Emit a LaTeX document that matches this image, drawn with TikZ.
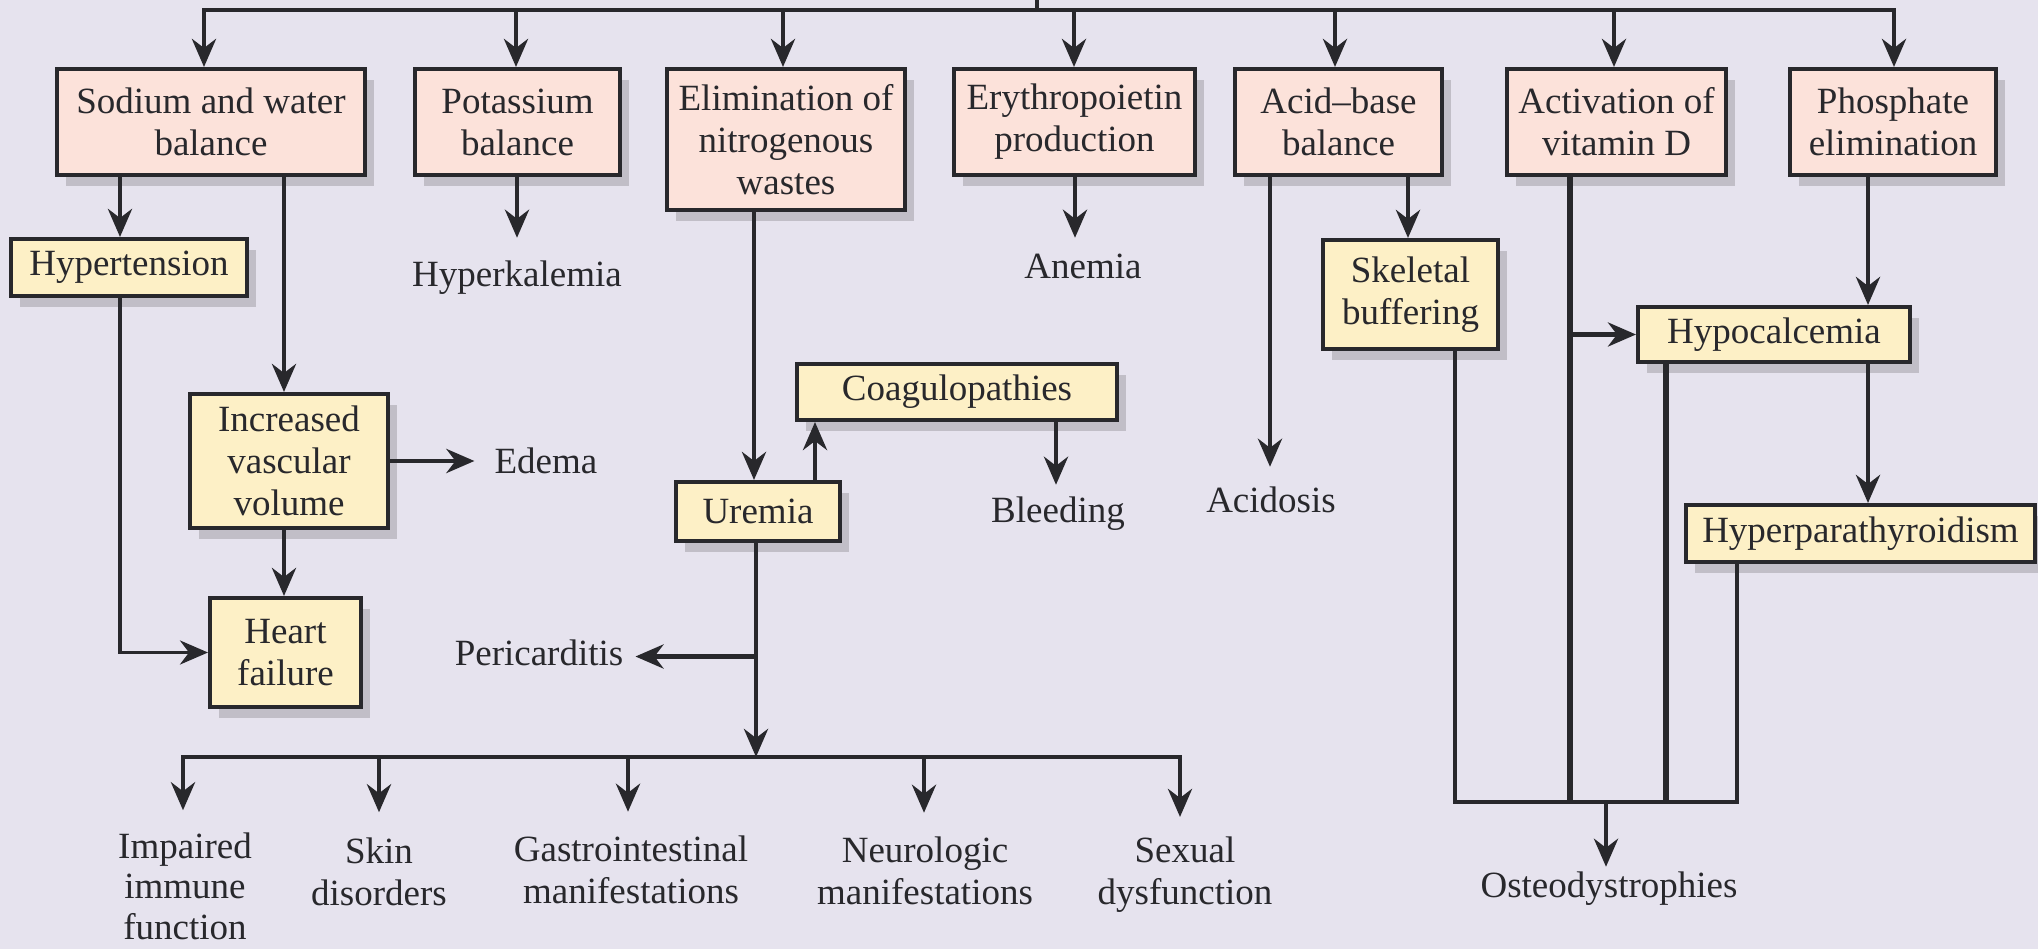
\documentclass[tikz,border=0pt]{standalone}
\usepackage{fontspec}
\setmainfont{Liberation Serif}
\usetikzlibrary{arrows.meta,shadows}
\definecolor{bg}{HTML}{E6E3EE}
\definecolor{pinkc}{HTML}{FCE2DA}
\definecolor{yelc}{HTML}{FDF0C6}
\definecolor{ink}{HTML}{28282C}
\tikzset{
  ln/.style={draw=ink, line width=4.8pt},
  thinln/.style={draw=ink, line width=3.6pt},
  thickln/.style={draw=ink, line width=6.5pt},
  tip/.style={-{Stealth[length=28pt,width=24pt,inset=9pt]}},
  arr/.style={ln, tip},
  thinarr/.style={thinln, tip},
  box/.style={draw=ink, line width=4pt, inner sep=0pt, align=center, text=ink,
    drop shadow={shadow xshift=9pt, shadow yshift=-11pt, fill=black, opacity=0.16}},
  pbox/.style={box, fill=pinkc},
  ybox/.style={box, fill=yelc},
  lbl/.style={inner sep=0pt, align=center, text=ink},
  lblone/.style={inner sep=0pt, text=ink, text height=25pt, text depth=8pt},
}
\begin{document}
\begin{tikzpicture}[x=1pt, y=-1pt, font=\fontsize{37}{42}\selectfont]
\fill[bg] (0,0) rectangle (2038,949);
\useasboundingbox (0,0) rectangle (2038,949);

% top row boxes
\node[pbox, minimum width=308pt, minimum height=106pt] (sod) at (211,122) {Sodium and water\\balance};
\node[pbox, minimum width=205pt, minimum height=106pt] (pot) at (517.5,122) {Potassium\\balance};
\node[pbox, minimum width=238pt, minimum height=141pt] (elim) at (786,139.5) {Elimination of\\nitrogenous\\wastes};
\node[pbox, minimum width=241pt, minimum height=106pt] (ery) at (1074.5,122) {Erythropoietin\\production};
\node[pbox, minimum width=207pt, minimum height=106pt] (acid) at (1338.5,122) {Acid–base\\balance};
\node[pbox, minimum width=219pt, minimum height=106pt] (act) at (1616.5,122) {Activation of\\vitamin D};
\node[pbox, minimum width=206pt, minimum height=106pt] (phos) at (1893,122) {Phosphate\\elimination};

% yellow boxes
\node[ybox, minimum width=236pt, minimum height=57pt] (hyp) at (129,267.5) {Hypertension};
\node[ybox, minimum width=198pt, minimum height=134pt] (inc) at (289,461) {Increased\\vascular\\volume};
\node[ybox, minimum width=151pt, minimum height=109pt] (heart) at (285.5,652.5) {Heart\\failure};
\node[ybox, minimum width=164pt, minimum height=59pt] (uremia) at (758,511.5) {Uremia};
\node[ybox, minimum width=320pt, minimum height=56pt] (coag) at (957,392) {Coagulopathies};
\node[ybox, minimum width=175pt, minimum height=109pt] (skel) at (1410.5,294.5) {Skeletal\\buffering};
\node[ybox, minimum width=272pt, minimum height=55pt] (hypoc) at (1774,334.5) {Hypocalcemia};
\node[ybox, minimum width=349pt, minimum height=57pt] (hpt) at (1860.5,533.5) {Hyperparathyroidism};

% plain labels
\node[lblone] (hk) at (517,278.5) {Hyperkalemia};
\node[lblone] (anemia) at (1083,270.5) {Anemia};
\node[lblone] (edema) at (546,464.5) {Edema};
\node[lblone] (bleed) at (1058,513.5) {Bleeding};
\node[lblone] (acidosis) at (1271,503.5) {Acidosis};
\node[lblone] (peri) at (539,656.5) {Pericarditis};
\node[lblone] (osteo) at (1609,888.5) {Osteodystrophies};
\node[lbl, font=\fontsize{37}{40.5}\selectfont] (imp) at (185,886) {Impaired\\immune\\function};
\node[lbl] (skin) at (379,871.5) {Skin\\disorders};
\node[lbl] (gi) at (631,870) {Gastrointestinal\\manifestations};
\node[lbl] (neuro) at (925,871) {Neurologic\\manifestations};
\node[lbl] (sex) at (1185,875) {Sexual\\dysfunction};

% top bus
\coordinate (stub) at (1037,0);
\coordinate (t1) at (204,10);
\coordinate (t2) at (516,10);
\coordinate (t3) at (783,10);
\coordinate (t4) at (1074,10);
\coordinate (t5) at (1335,10);
\coordinate (t6) at (1614,10);
\coordinate (t7) at (1894,10);
\draw[ln] (stub) -- (stub |- t1);
\draw[ln, line cap=rect] (t1) -- (t7);
\draw[arr] (t1) -- (t1 |- sod.north);
\draw[arr] (t2) -- (t2 |- pot.north);
\draw[arr] (t3) -- (t3 |- elim.north);
\draw[arr] (t4) -- (t4 |- ery.north);
\draw[arr] (t5) -- (t5 |- acid.north);
\draw[arr] (t6) -- (t6 |- act.north);
\draw[arr] (t7) -- (t7 |- phos.north);

% sodium branch
\coordinate (xhyp) at (120,0);
\coordinate (xinc) at (284,0);
\draw[arr] (sod.south -| xhyp) -- (hyp.north -| xhyp);
\draw[arr] (sod.south -| xinc) -- (inc.north -| xinc);
\draw[thinarr] (hyp.south -| xhyp) |- (heart.west);
\draw[arr, shorten >=20pt] (inc.east) -- (inc.east -| edema.west);
\draw[arr] (inc.south -| xinc) -- (heart.north -| xinc);

% potassium, erythropoietin
\coordinate (xpot) at (517,0);
\coordinate (xery) at (1075,0);
\draw[arr, shorten >=24pt] (pot.south -| xpot) -- (hk.north -| xpot);
\draw[arr, shorten >=16pt] (ery.south -| xery) -- (anemia.north -| xery);

% nitrogenous wastes
\coordinate (xe) at (754,0);
\coordinate (xc) at (815,0);
\coordinate (xb) at (1056,0);
\coordinate (xu) at (756,0);
\draw[arr] (elim.south -| xe) -- (uremia.north -| xe);
\draw[arr] (uremia.north -| xc) -- (coag.south -| xc);
\draw[arr, shorten >=12pt] (coag.south -| xb) -- (bleed.north -| xb);
\coordinate (bus) at (756,757);
\draw[arr] (uremia.south -| xu) -- (bus);
\draw[arr, shorten >=12pt] (xu |- peri.east) -- (peri.east);
\coordinate (b1) at (183,757);
\coordinate (b2) at (379,757);
\coordinate (b3) at (628,757);
\coordinate (b4) at (924,757);
\coordinate (b5) at (1180,757);
\draw[ln, line cap=rect] (b1) -- (b5);
\draw[arr, shorten >=22pt] (b1) -- (b1 |- imp.north);
\draw[arr, shorten >=25pt] (b2) -- (b2 |- skin.north);
\draw[arr, shorten >=24pt] (b3) -- (b3 |- gi.north);
\draw[arr, shorten >=24pt] (b4) -- (b4 |- neuro.north);
\draw[arr, shorten >=20pt] (b5) -- (b5 |- sex.north);

% acid-base
\coordinate (xac) at (1270,0);
\coordinate (xsk) at (1408,0);
\draw[arr, shorten >=20pt] (acid.south -| xac) -- (acidosis.north -| xac);
\draw[arr] (acid.south -| xsk) -- (skel.north -| xsk);

% vitamin D / phosphate
\coordinate (o1) at (1455,802);
\coordinate (o2) at (1570,802);
\coordinate (o3) at (1666,802);
\coordinate (o4) at (1737,802);
\coordinate (om) at (1606,802);
\coordinate (xp) at (1868,0);
\draw[arr] (phos.south -| xp) -- (hypoc.north -| xp);
\draw[arr] (hypoc.south -| xp) -- (hpt.north -| xp);
\draw[arr] (hypoc.west -| o2) -- (hypoc.west);
\draw[thinln] (skel.south -| o1) -- (o1);
\draw[thickln] (act.south -| o2) -- (o2);
\draw[thickln] (hypoc.south -| o3) -- (o3);
\draw[thinln] (hpt.south -| o4) -- (o4);
\draw[ln, line cap=rect] (o1) -- (o4);
\draw[arr, shorten >=5pt] (om) -- (om |- osteo.north);
\end{tikzpicture}
\end{document}
